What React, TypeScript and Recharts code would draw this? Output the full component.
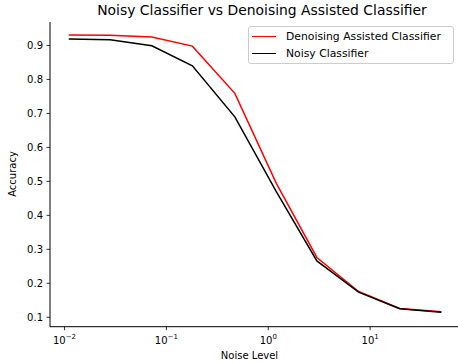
import { LineChart, Line, XAxis, YAxis } from "recharts";

const noiseLevels = [0.011, 0.028, 0.072, 0.18, 0.47, 1.2, 3.0, 7.7, 19.5, 50];
const denoisedAcc = [0.931, 0.93, 0.925, 0.898, 0.759, 0.494, 0.276, 0.176, 0.126, 0.116];
const noisyAcc = [0.919, 0.917, 0.899, 0.84, 0.69, 0.47, 0.266, 0.174, 0.125, 0.115];

const majorTicks = [0.01, 0.1, 1, 10];
const majorExp = ["\u22122", "\u22121", "0", "1"];
const minorTicks: number[] = [];
[0.001, 0.01, 0.1, 1, 10].forEach((d) => {
  for (let k = 2; k <= 9; k++) minorTicks.push(+(d * k).toPrecision(3));
});
const yTicks = [0.1, 0.2, 0.3, 0.4, 0.5, 0.6, 0.7, 0.8, 0.9];

const seriesNames = ["Denoising Assisted Classifier", "Noisy Classifier"];
const seriesColors = ["#ff0000", "#000000"];

const data = noiseLevels.map((x, i) => ({
  x,
  denoised: denoisedAcc[i],
  noisy: noisyAcc[i],
}));

const FONT = "'DejaVu Sans', sans-serif";
const xDomain = [0.00721, 76.2];

const LogTick = (props: any) => {
  const { x, y, payload } = props;
  const i = majorTicks.indexOf(payload.value);
  return (
    <text x={x} y={y + 12} textAnchor="middle" fontFamily={FONT} fontSize={10} fill="#000">
      <tspan>10</tspan>
      <tspan dy={-5} fontSize={7}>{majorExp[i]}</tspan>
    </text>
  );
};

export default function App() {
  return (
    <div style={{ position: "absolute", left: 0, top: 0, width: 458, height: 364, overflow: "hidden", background: "#fff" }}>
      <LineChart width={462} height={364} data={data} margin={{ top: 22, right: 2, bottom: 0, left: 0 }}>
        <XAxis
          xAxisId="minor"
          dataKey="x"
          type="number"
          scale="log"
          domain={xDomain}
          allowDataOverflow
          ticks={minorTicks}
          interval={0}
          height={0}
          axisLine={false}
          tickSize={2}
          tickLine={{ stroke: "#000", strokeWidth: 0.8 }}
          tick={() => <g />}
        />
        <XAxis
          dataKey="x"
          type="number"
          scale="log"
          domain={xDomain}
          allowDataOverflow
          ticks={majorTicks}
          interval={0}
          height={37.3}
          tickSize={3.5}
          axisLine={{ stroke: "#000", strokeWidth: 1 }}
          tickLine={{ stroke: "#000", strokeWidth: 0.8 }}
          tick={<LogTick />}
        />
        <XAxis
          xAxisId="top"
          orientation="top"
          dataKey="x"
          type="number"
          scale="log"
          domain={xDomain}
          allowDataOverflow
          height={0}
          tick={false}
          tickLine={false}
          axisLine={{ stroke: "#000", strokeWidth: 1 }}
        />
        <YAxis
          type="number"
          domain={[0.0723, 0.969]}
          allowDataOverflow
          ticks={yTicks}
          interval={0}
          width={50}
          tickSize={3.5}
          tickMargin={3.5}
          axisLine={{ stroke: "#000", strokeWidth: 1 }}
          tickLine={{ stroke: "#000", strokeWidth: 0.8 }}
          tick={{ fontFamily: FONT, fontSize: 10, fill: "#000" }}
          tickFormatter={(v: number) => v.toFixed(1)}
        />
        <Line
          dataKey="denoised"
          name={seriesNames[0]}
          stroke={seriesColors[0]}
          strokeWidth={1.5}
          dot={false}
          type="linear"
          isAnimationActive={false}
        />
        <Line
          dataKey="noisy"
          name={seriesNames[1]}
          stroke={seriesColors[1]}
          strokeWidth={1.5}
          dot={false}
          type="linear"
          isAnimationActive={false}
        />
      </LineChart>

      {/* legend box, upper right like matplotlib */}
      <div
        style={{
          position: "absolute",
          left: 248,
          top: 26,
          width: 204,
          height: 36,
          border: "1px solid #ccc",
          borderRadius: 3,
          background: "rgba(255,255,255,0.8)",
          fontFamily: FONT,
          fontSize: 10.8,
        }}
      >
        {seriesNames.map((t, i) => (
          <div
            key={t}
            style={{ position: "absolute", left: 3, top: 2 + i * 17, height: 15, display: "flex", alignItems: "center" }}
          >
            <div style={{ width: 24, height: 1.5, background: seriesColors[i] }} />
            <span style={{ marginLeft: 10, whiteSpace: "nowrap" }}>{t}</span>
          </div>
        ))}
      </div>

      <svg width={458} height={364} style={{ position: "absolute", left: 0, top: 0, pointerEvents: "none" }}>
        <text x={262} y={15} textAnchor="middle" fontFamily={FONT} fontSize={13.9} fill="#000">
          Noisy Classifier vs Denoising Assisted Classifier
        </text>
        <text x={249.5} y={359} textAnchor="middle" fontFamily={FONT} fontSize={10} fill="#000">
          Noise Level
        </text>
        <text
          x={16}
          y={174}
          textAnchor="middle"
          fontFamily={FONT}
          fontSize={10}
          fill="#000"
          transform="rotate(-90 16 174)"
        >
          Accuracy
        </text>
      </svg>
    </div>
  );
}
